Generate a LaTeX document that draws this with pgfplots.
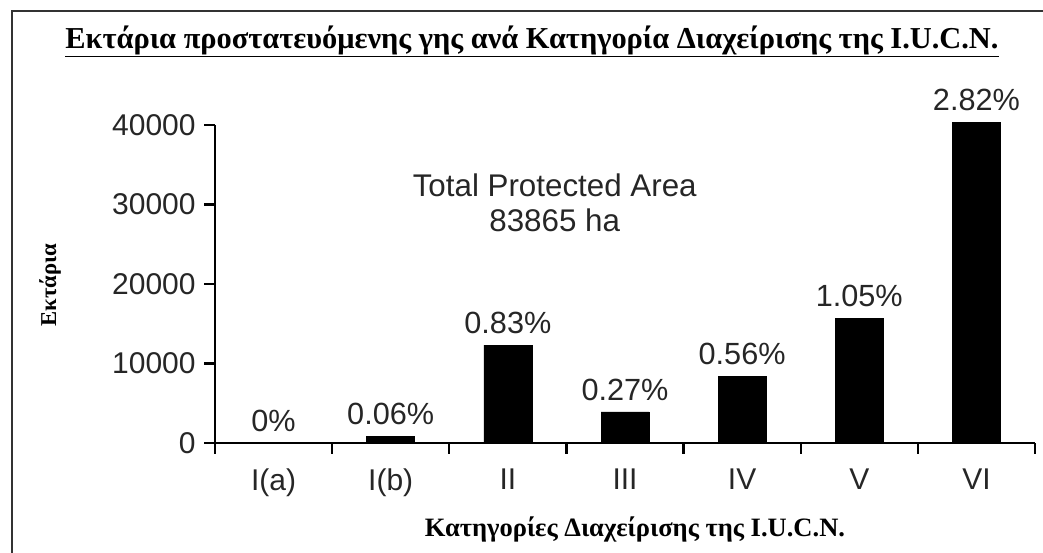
\documentclass[border=0pt]{standalone}
\usepackage{pgfplots}
\pgfplotsset{compat=1.18}
\usepackage{fontspec}
\setmainfont{Liberation Serif}
\newfontfamily\arial{Liberation Sans}
\begin{document}
\begin{tikzpicture}
\useasboundingbox (0,0) rectangle (782.25pt,414.75pt);
\draw[line width=2pt, black!80] (9pt,0) -- (9pt,406.5pt) -- (782.25pt,406.5pt);
\node[font=\bfseries\fontsize{22.8}{26}\selectfont] at (399pt,383.5pt) {\underline{Εκτάρια προστατευόμενης γης ανά Κατηγορία Διαχείρισης της I.U.C.N.}};
\node[font=\bfseries\fontsize{17}{20}\selectfont, rotate=90] at (37.5pt,201pt) {Εκτάρια};
\node[font=\bfseries\fontsize{19.9}{22}\selectfont] at (476.25pt,18pt) {Κατηγορίες Διαχείρισης της I.U.C.N.};
\begin{axis}[
  anchor=south west, at={(161.25pt,82.5pt)},
  scale only axis, width=615pt, height=238.5pt,
  xmin=-0.5, xmax=6.5, ymin=0, ymax=40000,
  clip=false,
  axis x line*=bottom, axis y line*=left,
  axis line style={line width=1.8pt,-},
  every tick/.style={line width=1.8pt, black},
  tick align=outside, major tick length=8pt,
  ytick={0,10000,20000,30000,40000},
  scaled y ticks=false,
  /pgf/number format/assume math mode=true,
  yticklabel style={/pgf/number format/1000 sep={}, xshift=-3pt},
  xtick={-0.5,0.5,...,6.5},
  xticklabels={I(a),I(b),II,III,IV,V,VI,{}},
  xticklabel style={xshift=43.93pt, yshift=-8pt},
  tick label style={font=\arial\fontsize{22.5}{24}\selectfont, black!85},
  ybar, bar width=36pt,
  nodes near coords,
  point meta=explicit symbolic,
  nodes near coords style={font=\arial\fontsize{23}{25}\selectfont, black!85, anchor=south, yshift=5pt},
]
\addplot[fill=black, draw=black] coordinates {
  (0,0) [0\%]
  (1,800) [0.06\%]
  (2,12300) [0.83\%]
  (3,3900) [0.27\%]
  (4,8350) [0.56\%]
  (5,15700) [1.05\%]
  (6,40300) [2.82\%]
};
\node[font=\arial\fontsize{23.5}{26}\selectfont, black!85, align=center] at (axis cs:2.4,30250) {Total Protected Area\\83865 ha};
\end{axis}
\end{tikzpicture}
\end{document}
